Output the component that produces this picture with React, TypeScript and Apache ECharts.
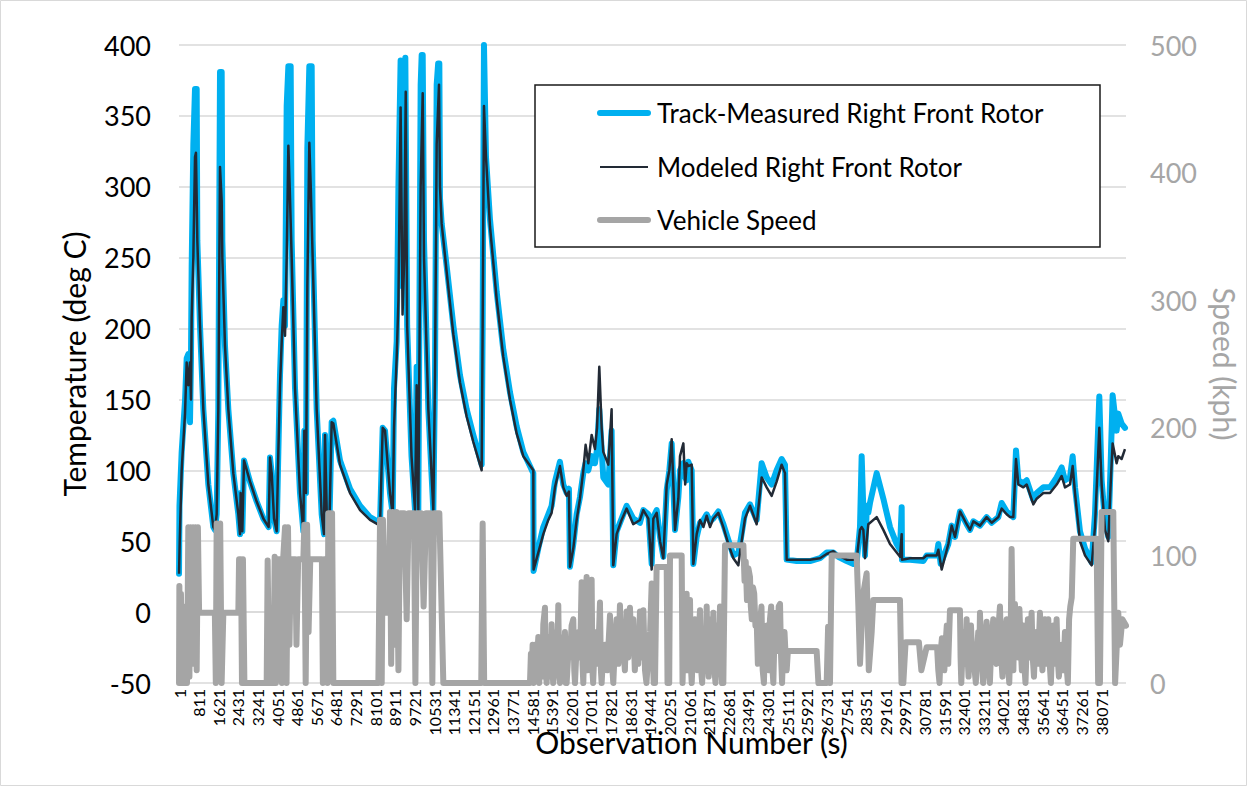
import React, { useEffect, useRef } from "react";
import * as echarts from "echarts";

const FONT = 'Lato, "Noto Sans", sans-serif';

const seriesNames = [
  "Track-Measured Right Front Rotor",
  "Modeled Right Front Rotor",
  "Vehicle Speed",
];
const seriesColors = ["#00b0f0", "#222a35", "#a5a5a5"];

const X_STEP = 810;
const X_MAX = 39100;
const X_LAST_LABEL = 38070;
const TEMP_MIN = -50;
const TEMP_MAX = 400;
const TEMP_STEP = 50;
const SPEED_MIN = 0;
const SPEED_MAX = 500;
const SPEED_STEP = 100;

// [observation, deg C]
const measured: [number, number][] = [
  [1, 27], [20, 75], [110, 113], [248, 149], [317, 179], [385, 182], [454, 134], [495, 179], [523, 244], [592, 330],
  [661, 369], [730, 369], [757, 262], [867, 202], [1005, 143], [1211, 90], [1418, 60], [1486, 58], [1555, 69], [1624, 143],
  [1693, 381], [1762, 381], [1789, 262], [1899, 188], [2037, 143], [2243, 98], [2450, 69], [2519, 55], [2546, 84], [2615, 57],
  [2684, 107], [2932, 92], [3207, 78], [3482, 66], [3702, 60], [3757, 109], [3827, 98], [3923, 66], [4033, 57], [4102, 113],
  [4170, 167], [4239, 202], [4308, 220], [4377, 202], [4446, 357], [4515, 385], [4611, 385], [4652, 262], [4790, 158], [4996, 84],
  [5134, 57], [5175, 128], [5244, 84], [5299, 327], [5381, 385], [5478, 385], [5519, 262], [5684, 143], [5891, 69], [5987, 55],
  [6028, 125], [6097, 72], [6207, 60], [6303, 134], [6372, 135], [6648, 107], [7061, 87], [7474, 75], [7887, 67], [8300, 63],
  [8410, 130], [8506, 128], [8712, 84], [8823, 69], [8878, 158], [8988, 191], [9060, 300], [9150, 389], [9220, 230], [9290, 300],
  [9345, 391], [9420, 202], [9600, 110], [9744, 72], [9813, 173], [9882, 72], [9978, 372], [10020, 393], [10062, 393], [10116, 262],
  [10295, 143], [10501, 72], [10570, 167], [10639, 372], [10700, 387], [10749, 387], [10776, 292], [10845, 274], [11051, 244], [11327, 202],
  [11602, 167], [11877, 143], [12152, 125], [12496, 104], [12537, 202], [12592, 400], [12675, 321], [12840, 277], [13115, 226], [13390, 185],
  [13666, 155], [13941, 131], [14216, 113], [14629, 98], [14640, 29], [14835, 45], [15041, 60], [15248, 69], [15385, 75], [15523, 92],
  [15729, 106], [15867, 90], [16005, 84], [16100, 87], [16142, 32], [16280, 48], [16418, 69], [16555, 81], [16693, 98], [16789, 105],
  [16900, 100], [17037, 110], [17174, 105], [17260, 115], [17353, 143], [17450, 115], [17518, 95], [17725, 90], [17862, 128], [17931, 33],
  [18069, 57], [18275, 66], [18481, 75], [18756, 66], [19032, 63], [19173, 72], [19379, 69], [19516, 34], [19585, 67], [19723, 72],
  [19860, 53], [19998, 39], [20136, 86], [20246, 100], [20342, 119], [20480, 58], [20617, 81], [20686, 100], [20824, 105], [20900, 95],
  [20961, 93], [21030, 106], [21168, 100], [21237, 34], [21374, 53], [21512, 63], [21650, 65], [21787, 69], [21925, 64], [22062, 66],
  [22269, 71], [22475, 62], [22682, 51], [22888, 40], [23094, 42], [23163, 48], [23369, 70], [23576, 76], [23851, 65], [24057, 105],
  [24264, 95], [24470, 90], [24676, 100], [24883, 108], [25020, 104], [25089, 37], [25502, 36], [26053, 36], [26466, 38], [26741, 42],
  [27016, 42], [27222, 39], [27566, 36], [27842, 34], [27979, 35], [28117, 60], [28186, 110], [28255, 72], [28324, 40], [28400, 75],
  [28461, 70], [28531, 77], [28806, 98], [29081, 80], [29356, 60], [29632, 48], [29769, 44], [29838, 74], [29850, 37], [30182, 37],
  [30733, 36], [30870, 40], [31283, 40], [31352, 48], [31448, 34], [31764, 48], [31902, 61], [32040, 53], [32246, 71], [32521, 62],
  [32659, 58], [32797, 64], [33072, 61], [33347, 67], [33554, 63], [33829, 67], [33967, 77], [34173, 71], [34311, 69], [34448, 67],
  [34558, 114], [34655, 93], [34861, 91], [34999, 93], [35274, 79], [35412, 84], [35687, 88], [35962, 88], [36237, 95], [36444, 102],
  [36582, 93], [36788, 95], [36898, 110], [36994, 88], [37200, 57], [37407, 45], [37682, 35], [37819, 69], [37998, 152], [38094, 93],
  [38232, 64], [38369, 53], [38466, 105], [38548, 153], [38713, 128], [38782, 140], [38919, 133], [39057, 130],
];

// [observation, deg C]
const modeled: [number, number][] = [
  [1, 27], [30, 50], [110, 100], [248, 140], [317, 176], [385, 160], [454, 176], [495, 150], [523, 208], [592, 250],
  [661, 321], [700, 324], [757, 262], [867, 202], [1005, 143], [1211, 90], [1418, 60], [1486, 58], [1555, 69], [1624, 143],
  [1693, 314], [1762, 290], [1789, 250], [1899, 188], [2037, 143], [2243, 98], [2450, 69], [2519, 55], [2546, 84], [2615, 57],
  [2684, 107], [2932, 92], [3207, 78], [3482, 66], [3702, 60], [3757, 109], [3827, 98], [3923, 66], [4033, 57], [4102, 113],
  [4170, 160], [4239, 190], [4308, 215], [4377, 195], [4446, 250], [4515, 329], [4570, 300], [4652, 250], [4790, 158], [4996, 84],
  [5134, 57], [5175, 128], [5244, 84], [5299, 230], [5381, 331], [5440, 300], [5519, 250], [5684, 143], [5891, 69], [5987, 55],
  [6028, 125], [6097, 72], [6207, 60], [6303, 134], [6372, 133], [6648, 104], [7061, 84], [7474, 72], [7887, 65], [8300, 61],
  [8410, 130], [8506, 128], [8712, 84], [8823, 69], [8878, 130], [8988, 180], [9060, 220], [9150, 356], [9230, 210], [9300, 250],
  [9361, 367], [9420, 202], [9600, 110], [9744, 72], [9813, 160], [9882, 72], [9978, 300], [10062, 366], [10116, 250], [10295, 143],
  [10501, 72], [10570, 167], [10639, 330], [10735, 372], [10776, 300], [10845, 274], [11051, 240], [11327, 196], [11602, 162], [11877, 138],
  [12152, 120], [12496, 100], [12537, 202], [12592, 357], [12675, 321], [12840, 272], [13115, 221], [13390, 180], [13666, 150], [13941, 126],
  [14216, 110], [14629, 100], [14640, 30], [14835, 42], [15041, 55], [15248, 65], [15385, 70], [15523, 88], [15729, 103], [15867, 88],
  [16005, 82], [16100, 85], [16142, 32], [16280, 45], [16418, 65], [16555, 80], [16693, 100], [16789, 118], [16900, 105], [17037, 125],
  [17174, 115], [17260, 130], [17353, 173], [17450, 130], [17518, 113], [17725, 104], [17862, 143], [17931, 33], [18069, 55], [18275, 65],
  [18481, 73], [18756, 62], [19032, 65], [19173, 72], [19379, 66], [19516, 30], [19585, 66], [19723, 70], [19860, 50], [19998, 38],
  [20136, 90], [20246, 100], [20342, 122], [20480, 58], [20617, 80], [20686, 110], [20824, 119], [20900, 90], [20961, 105], [21030, 103],
  [21168, 104], [21237, 34], [21374, 55], [21512, 65], [21650, 60], [21787, 68], [21925, 60], [22062, 66], [22269, 70], [22475, 60],
  [22682, 48], [22888, 38], [23094, 33], [23163, 42], [23369, 66], [23576, 75], [23851, 62], [24057, 95], [24264, 88], [24470, 82],
  [24676, 92], [24883, 104], [25020, 98], [25089, 37], [25502, 37], [26053, 37], [26466, 38], [26741, 41], [27016, 43], [27222, 40],
  [27566, 37], [27842, 37], [27979, 37], [28117, 58], [28186, 60], [28255, 58], [28324, 38], [28461, 62], [28806, 67], [29081, 58],
  [29356, 48], [29632, 42], [29769, 39], [29838, 55], [29850, 37], [30182, 38], [30733, 38], [30870, 40], [31283, 40], [31352, 44],
  [31489, 30], [31764, 48], [31902, 61], [32040, 53], [32246, 71], [32521, 62], [32659, 58], [32797, 64], [33072, 61], [33347, 67],
  [33554, 63], [33829, 67], [33967, 73], [34173, 69], [34311, 67], [34448, 67], [34558, 108], [34655, 90], [34861, 88], [34999, 90],
  [35274, 76], [35412, 80], [35687, 84], [35962, 84], [36237, 90], [36444, 96], [36582, 88], [36788, 90], [36898, 103], [36994, 84],
  [37200, 50], [37407, 40], [37682, 33], [37819, 60], [37998, 130], [38094, 90], [38232, 58], [38369, 50], [38466, 90], [38548, 119],
  [38713, 105], [38782, 110], [38919, 108], [39057, 115],
];

// [observation, kph]
const speed: [number, number][] = [
  [1, 0], [15, 76], [41, 0], [80, 70], [130, 0], [180, 43], [230, 0], [280, 60], [330, 0], [385, 122],
  [430, 5], [480, 122], [530, 15], [580, 122], [630, 20], [680, 122], [730, 10], [780, 122], [830, 55], [1480, 55],
  [1520, 0], [1555, 125], [1620, 20], [1700, 125], [1760, 0], [1831, 55], [2450, 55], [2480, 97], [2560, 97], [2600, 0],
  [2640, 97], [2700, 0], [3620, 0], [3660, 96], [3720, 0], [3900, 0], [3950, 99], [4000, 0], [4060, 97], [4200, 97],
  [4250, 0], [4300, 97], [4377, 122], [4440, 0], [4500, 122], [4560, 30], [4620, 97], [4800, 97], [4850, 30], [4920, 97],
  [5134, 97], [5175, 124], [5230, 0], [5290, 124], [5350, 40], [5420, 97], [5900, 97], [5940, 0], [5990, 97], [6080, 97],
  [6130, 0], [6166, 133], [6320, 133], [6372, 0], [8231, 0], [8300, 128], [8369, 0], [8420, 128], [8500, 55], [8650, 55],
  [8712, 134], [8760, 15], [8820, 134], [8900, 30], [8980, 134], [9060, 10], [9125, 133], [9300, 133], [9400, 50], [9480, 133],
  [9700, 133], [9760, 0], [9820, 133], [10000, 133], [10100, 60], [10200, 133], [10400, 133], [10460, 0], [10530, 133], [10749, 133],
  [10914, 0], [12480, 0], [12537, 125], [12600, 0], [14491, 0],
  [14530, 23], [14560, 5], [14600, 30], [14640, 0], [14700, 30], [14760, 10], [14835, 36], [14870, 0], [14950, 25], [15000, 5],
  [15041, 46], [15110, 59], [15140, 10], [15180, 0], [15240, 30], [15300, 36], [15340, 5], [15385, 46], [15420, 10], [15450, 0],
  [15520, 35], [15580, 40], [15620, 15], [15660, 61], [15700, 5], [15730, 0], [15800, 30], [15867, 36], [15900, 10], [15935, 40],
  [15970, 0], [16005, 0], [16080, 25], [16142, 20], [16210, 45], [16280, 50], [16320, 10], [16350, 0], [16420, 30], [16490, 40],
  [16560, 20], [16624, 79], [16660, 15], [16693, 0], [16760, 50], [16830, 83], [16870, 10], [16900, 30], [16970, 60], [17037, 81],
  [17070, 10], [17100, 0], [17170, 35], [17240, 40], [17300, 15], [17381, 63], [17420, 10], [17450, 0], [17520, 25], [17590, 30],
  [17680, 10], [17794, 53], [17860, 20], [17931, 0], [18000, 30], [18069, 50], [18140, 15], [18206, 61], [18270, 20], [18340, 30],
  [18410, 10], [18481, 56], [18550, 20], [18619, 59], [18690, 25], [18756, 50], [18820, 10], [18894, 30], [18960, 15], [19032, 56],
  [19100, 20], [19173, 57], [19240, 10], [19300, 0], [19379, 23], [19450, 40], [19517, 78], [19560, 20], [19600, 0], [19654, 0],
  [19720, 91], [20136, 91], [20170, 0], [20240, 0], [20273, 100], [20755, 100], [20790, 0],
  [20830, 30], [20870, 40], [20910, 10], [20960, 70], [21000, 20], [21030, 10], [21099, 65], [21130, 15], [21170, 0], [21230, 30],
  [21300, 50], [21350, 20], [21400, 10], [21460, 40], [21512, 57], [21560, 10], [21600, 0], [21650, 25], [21700, 40], [21740, 10],
  [21787, 60], [21830, 20], [21870, 5], [21920, 35], [21960, 50], [22010, 15], [22062, 55], [22110, 10], [22150, 0], [22200, 30],
  [22250, 45], [22290, 10], [22337, 60], [22380, 15], [22420, 0], [22475, 0], [22544, 108], [23302, 108],
  [23350, 80], [23400, 95], [23450, 65], [23510, 90], [23576, 83], [23610, 60], [23650, 50], [23700, 75], [23750, 70], [23800, 45],
  [23851, 49], [23900, 15], [23950, 20], [24000, 50], [24050, 60], [24100, 10], [24150, 0], [24200, 35], [24264, 45], [24300, 20],
  [24350, 10], [24400, 50], [24450, 60], [24490, 15], [24539, 0], [24590, 40], [24650, 55], [24700, 25], [24760, 60], [24815, 62],
  [24860, 20], [24900, 0], [24950, 30], [25000, 40], [25050, 20], [25090, 10], [25140, 25], [25227, 25],
  [26328, 25], [26400, 0], [26741, 0], [26800, 44], [26878, 0], [26950, 100], [27979, 100], [28050, 60], [28117, 15], [28250, 70],
  [28392, 86], [28480, 10], [28600, 40], [28667, 65], [29768, 65], [29830, 0], [29906, 0], [30000, 32], [30550, 32], [30650, 10],
  [30869, 28], [31300, 28], [31350, 10], [31400, 0], [31450, 25], [31500, 35], [31550, 20], [31600, 10], [31650, 30], [31700, 45],
  [31760, 15], [31832, 57], [32244, 57], [32270, 20], [32300, 0], [32350, 25], [32400, 40], [32460, 15], [32520, 50], [32560, 20],
  [32600, 5], [32650, 30], [32700, 45], [32750, 20], [32795, 30], [32850, 10], [32900, 0], [32950, 25], [33000, 40], [33040, 15],
  [33070, 55], [33130, 20], [33200, 0], [33270, 30], [33345, 48], [33400, 15], [33480, 0], [33550, 35], [33620, 50], [33680, 20],
  [33750, 15], [33820, 40], [33896, 60], [33950, 20], [34000, 5], [34080, 35], [34171, 50], [34230, 15], [34280, 0], [34340, 40],
  [34377, 105], [34410, 60], [34450, 10], [34480, 40], [34515, 62], [34560, 25], [34600, 40], [34650, 20], [34700, 58], [34750, 30],
  [34800, 10], [34859, 45], [34900, 15], [34950, 0], [35000, 30], [35050, 50], [35120, 20], [35203, 55], [35250, 20], [35300, 5],
  [35350, 30], [35400, 40], [35470, 15], [35547, 55], [35600, 25], [35650, 10], [35700, 35], [35750, 50], [35820, 15], [35891, 50],
  [35950, 15], [36000, 0], [36050, 30], [36100, 45], [36170, 15], [36235, 50], [36280, 20], [36330, 5], [36390, 25], [36450, 30],
  [36520, 10], [36579, 40], [36640, 15], [36700, 0], [36750, 50], [36800, 60], [36860, 67], [36923, 113], [37886, 113], [37950, 0],
  [38024, 0], [38093, 134], [38575, 134], [38650, 0], [38781, 55], [38850, 30], [38950, 50], [39100, 45],
];

const LEGEND_BOX = { x: 535, y: 85, width: 565, height: 162 };
const LEGEND_ROWS = [113, 167, 220];
const LEGEND_LINE_WIDTHS = [6, 2, 6];

export default function App() {
  const ref = useRef<HTMLDivElement>(null);

  useEffect(() => {
    if (!ref.current) return;
    const chart = echarts.init(ref.current, null, { renderer: "svg" });

    const legendGraphics: any[] = [];
    seriesNames.forEach((name, i) => {
      legendGraphics.push({
        type: "line",
        z: 11,
        silent: true,
        shape: { x1: 600, y1: LEGEND_ROWS[i], x2: 648, y2: LEGEND_ROWS[i] },
        style: {
          stroke: seriesColors[i],
          lineWidth: LEGEND_LINE_WIDTHS[i],
          lineCap: i === 1 ? "butt" : "round",
        },
      });
      legendGraphics.push({
        type: "text",
        z: 11,
        silent: true,
        x: 657,
        y: LEGEND_ROWS[i],
        style: {
          text: name,
          fill: "#000",
          font: `26px ${FONT}`,
          textAlign: "left",
          textVerticalAlign: "middle",
        },
      });
    });

    chart.setOption({
      animation: false,
      backgroundColor: "#ffffff",
      textStyle: { fontFamily: FONT },
      grid: { left: 179, right: 126, top: 45, bottom: 104, containLabel: false },
      graphic: [
        {
          type: "rect",
          z: -10,
          silent: true,
          shape: { x: 0.5, y: 0.5, width: 1246, height: 785 },
          style: { fill: "none", stroke: "#d9d9d9", lineWidth: 1 },
        },
        {
          type: "rect",
          z: 10,
          silent: true,
          shape: LEGEND_BOX,
          style: { fill: "#ffffff", stroke: "#1a1a1a", lineWidth: 1.5 },
        },
        ...legendGraphics,
      ],
      xAxis: {
        type: "value",
        min: 0,
        max: X_MAX,
        interval: X_STEP,
        name: "Observation Number (s)",
        nameLocation: "middle",
        nameGap: 44,
        nameMoveOverlap: false,
        nameTextStyle: { fontSize: 30, color: "#000", fontFamily: FONT, padding: [0, 0, 0, 78] },
        axisLine: { show: true, lineStyle: { color: "#d9d9d9", width: 1.5 } },
        axisTick: { show: false },
        splitLine: { show: false },
        axisLabel: {
          rotate: 90,
          fontSize: 16,
          color: "#000",
          margin: 6,
          showMaxLabel: false,
          formatter: (v: number) => (v > X_LAST_LABEL ? "" : String(v + 1)),
        },
      },
      yAxis: [
        {
          type: "value",
          position: "left",
          min: TEMP_MIN,
          max: TEMP_MAX,
          interval: TEMP_STEP,
          name: "Temperature (deg C)",
          nameLocation: "middle",
          nameRotate: 90,
          nameGap: 90,
          nameTextStyle: { fontSize: 30, color: "#000", fontFamily: FONT },
          axisLine: { show: false },
          axisTick: { show: false },
          axisLabel: { fontSize: 27, color: "#000", margin: 28 },
          splitLine: { show: true, lineStyle: { color: "#d9d9d9", width: 1.5 } },
        },
        {
          type: "value",
          position: "right",
          min: SPEED_MIN,
          max: SPEED_MAX,
          interval: SPEED_STEP,
          name: "Speed (kph)",
          nameLocation: "middle",
          nameRotate: -90,
          nameGap: 84,
          nameTextStyle: { fontSize: 30, color: "#a6a6a6", fontFamily: FONT },
          axisLine: { show: false },
          axisTick: { show: false },
          axisLabel: { fontSize: 27, color: "#a6a6a6", margin: 24 },
          splitLine: { show: false },
        },
      ],
      series: [
        {
          name: seriesNames[0],
          type: "line",
          yAxisIndex: 0,
          data: measured,
          showSymbol: false,
          symbol: "none",
          z: 2,
          lineStyle: { color: seriesColors[0], width: 6, cap: "round", join: "round" },
          itemStyle: { color: seriesColors[0] },
        },
        {
          name: seriesNames[1],
          type: "line",
          yAxisIndex: 0,
          data: modeled,
          showSymbol: false,
          symbol: "none",
          z: 3,
          lineStyle: { color: seriesColors[1], width: 2.5, join: "round" },
          itemStyle: { color: seriesColors[1] },
        },
        {
          name: seriesNames[2],
          type: "line",
          yAxisIndex: 1,
          data: speed,
          showSymbol: false,
          symbol: "none",
          z: 4,
          lineStyle: { color: seriesColors[2], width: 6, cap: "round", join: "round" },
          itemStyle: { color: seriesColors[2] },
        },
      ],
    });
    return () => chart.dispose();
  }, []);

  return (
    <div
      ref={ref}
      style={{ position: "absolute", left: 0, top: 0, width: 1252, height: 787, background: "#fff" }}
    />
  );
}
